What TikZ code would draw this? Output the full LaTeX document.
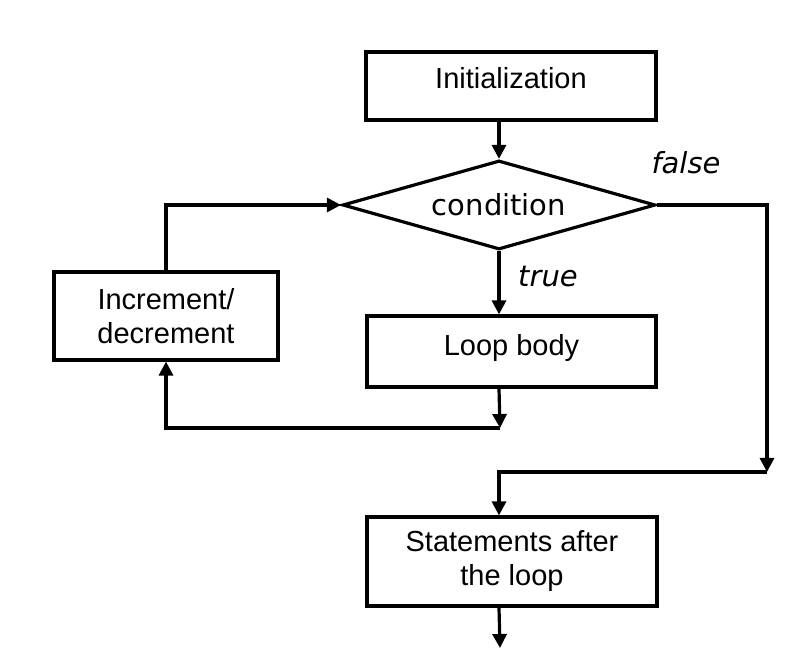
\documentclass[tikz,border=0pt]{standalone}
\usepackage{fontspec}
\setmainfont{Liberation Sans}
\newfontfamily\dejavu{DejaVu Sans}
\usetikzlibrary{shapes.geometric, arrows.meta, positioning}
\tikzstyle{arrow} = [line width=1.6pt,-{Triangle[length=7pt,width=7pt]},draw=black]
\tikzstyle{box} = [rectangle, draw, line width=1.6pt, align=center, inner sep=0pt, font=\fontsize{14.5}{17}\selectfont]
\tikzstyle{decision} = [diamond, draw, line width=1.6pt, inner sep=0pt, aspect=3.5, font=\dejavu\fontsize{14.5}{17}\selectfont]
\tikzstyle{branch} = [font=\dejavu\itshape\fontsize{14.5}{17}\selectfont]

\begin{document}
\begin{tikzpicture}[x=0.5pt, y=-0.5pt, text centered]
        \useasboundingbox (0,0) rectangle (805,651);

        \node (init) [box, minimum width=145pt, minimum height=34pt, text depth=8pt] at (511,86) {Initialization};
        \node (cond) [decision, minimum width=156.5pt, minimum height=44.5pt] at (499,205) {condition};
        \node (body) [box, minimum width=144.5pt, minimum height=35.5pt, text depth=7pt] at (511.5,351.5) {Loop body};
        \node (incr) [box, minimum width=112pt, minimum height=44pt] at (166,316) {Increment/\\decrement};
        \node (after) [box, minimum width=145pt, minimum height=44.5pt] at (512,561.5) {Statements after\\the loop};

        \node (false) [branch] at (686,163) {false};
        \node (true) [branch] at (548,277) {true};

        \coordinate (back) at (500,428);
        \coordinate (exit) at (767,472);
        \coordinate (out) at (500,648);

        \draw[arrow] (cond.north |- init.south) -- (cond.north);
        \draw[arrow] (cond.south) -- (cond.south |- body.north);
        \draw[arrow] (cond.south |- body.south) -- (back);
        \draw[arrow] (back) -| (incr.south);
        \draw[arrow] (incr.north) |- (cond.west);
        \draw[arrow] (cond.east) -| (exit);
        \draw[arrow] (exit) -| (cond.south |- after.north);
        \draw[arrow] (cond.south |- after.south) -- (out);

    \end{tikzpicture}
\end{document}
